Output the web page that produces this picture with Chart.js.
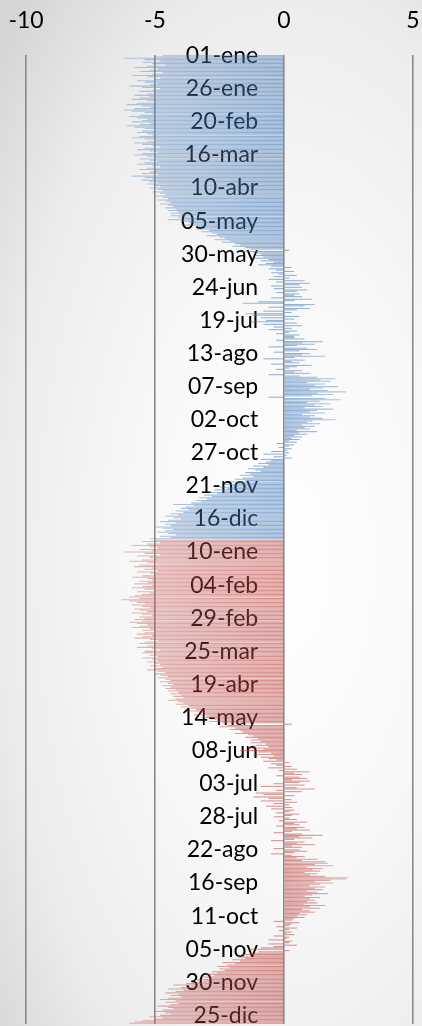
<!DOCTYPE html>
<html>
<head>
<meta charset="utf-8">
<script src="https://cdn.jsdelivr.net/npm/chart.js@4"></script>
<style>
  html, body {
    margin: 0;
    padding: 0;
  }
  body {
    width: 422px;
    height: 1026px;
    overflow: hidden;
    background: radial-gradient(ellipse 90% 75% at 68% 55%, #ffffff 0%, #f8f8f8 40%, #ececec 75%, #d6d6d6 100%);
  }
  #wrap {
    position: relative;
    width: 422px;
    height: 1026px;
  }
</style>
</head>
<body>
<div id="wrap"><canvas id="chart"></canvas></div>
<script>
'use strict';

// Month names and day counts used for the category labels.
// Both years of the picture carry a 29-feb.
const monthNames = ['ene', 'feb', 'mar', 'abr', 'may', 'jun', 'jul', 'ago', 'sep', 'oct', 'nov', 'dic'];
const monthDays = [31, 29, 31, 30, 31, 30, 31, 31, 30, 31, 30, 31];

// Only every 25th category gets a visible label.
const labelStep = 25;

// X axis tick values.
const xTicks = [-10, -5, 0, 5];

// First year (blue), one value per day.
const firstYear = [
  // ene
  -4.7, -5.0, -6.2, -5.4, -4.8, -5.5, -5.1, -4.6, -5.3, -5.8, -4.9, -5.2, -5.6, -4.7, -5.1, -5.9,
  -5.3, -4.8, -5.0, -5.7, -5.4, -4.9, -5.2, -6.0, -5.5, -4.8, -5.1, -5.6, -5.0, -5.3, -5.8,
  // feb
  -5.2, -5.6, -5.9, -5.3, -5.0, -5.7, -6.1, -5.5, -5.2, -5.8, -6.2, -5.9, -5.4, -5.1, -5.6,
  -6.0, -5.7, -5.3, -5.5, -5.9, -5.2, -5.6, -6.1, -5.8, -5.4, -5.0, -5.5, -5.7, -5.3,
  // mar
  -5.1, -5.6, -5.9, -5.4, -5.0, -5.3, -5.8, -5.5, -5.1, -4.8, -5.4, -5.7, -5.2, -4.9, -5.5, -5.8,
  -5.3, -5.0, -5.6, -5.2, -4.9, -5.4, -5.7, -5.1, -4.8, -5.3, -5.6, -5.0, -5.2, -5.5, -4.9,
  // abr
  -5.9, -5.4, -5.1, -5.5, -5.2, -4.9, -5.3, -5.0, -4.8, -5.2, -4.9, -4.7, -5.1, -4.8, -4.6,
  -5.0, -4.7, -4.5, -4.9, -4.6, -4.4, -4.8, -4.5, -4.3, -4.6, -4.2, -4.5, -4.1, -4.4, -4.0,
  // may
  -4.4, -4.1, -3.9, -4.5, -4.0, -3.7, -3.5, -3.9, -3.3, -3.1, -3.4, -2.9, -3.2, -2.8, -2.6, -3.0,
  -2.5, -2.3, -2.7, -2.1, -2.4, -1.9, -1.7, -2.0, -1.5, -1.3, 0.2, -1.6, -1.2, -0.9, -1.1,
  // jun
  -0.8, -1.2, -0.6, -0.9, -0.4, -0.7, -1.0, -0.5, 0.3, -0.6, -0.3, 0.4, -0.5, -0.2, 0.5,
  -0.4, 0.2, -0.6, 0.8, -0.3, 1.0, 0.6, -0.5, 0.7, -0.4, 0.9, 0.5, -0.3, 0.6, 0.4,
  // jul
  0.7, -0.5, 1.1, 0.4, -1.0, -1.6, 1.2, 0.8, -0.6, 1.0, 0.5, -0.8, 0.3, -1.5, -1.2, 0.6,
  -0.9, 0.4, -0.7, -1.3, 0.5, -0.8, 0.7, -0.4, 0.3, -0.6, 0.5, 0.2, -0.3, 0.6, 0.4,
  // ago
  0.4, 0.8, -0.3, 1.5, 0.7, 1.2, 0.5, -0.6, 0.9, 1.3, 0.6, -0.4, 1.0, 0.7, 1.6, 0.4,
  -0.8, 0.8, 0.3, 0.6, -0.5, 1.1, 0.5, 0.2, -0.3, 0.7, 0.4, 1.0, -0.6, 0.6, 1.3,
  // sep
  2.0, 1.4, 1.8, 0.9, 1.6, 1.2, 2.1, 1.5, 1.0, 1.7, 2.4, 1.3, 1.9, 1.1, -0.6,
  1.6, 2.2, 1.4, 0.9, 1.8, 1.2, 1.5, 0.8, 1.9, 1.3, 1.0, 1.6, 0.7, 1.2, 1.0,
  // oct
  1.5, 2.0, 1.1, 0.9, 1.4, 0.7, 1.2, 0.8, 1.0, 0.5, 1.3, 0.6, 0.9, 0.4, 0.7, 0.3,
  0.6, 0.2, 0.5, -0.3, 0.4, 0.2, -0.2, 0.3, 0.1, -0.5, 0.2, -0.8, 0.1, -0.4, 0.3,
  // nov
  -0.9, -0.5, -0.7, -1.0, -0.6, -1.2, -0.8, -1.4, -1.1, -0.9, -1.5, -1.3, -1.7, -1.2, -1.6,
  -1.9, -1.5, -2.1, -1.8, -2.3, -2.0, -2.5, -2.2, -2.7, -2.4, -2.9, -2.6, -3.1, -2.8, -3.3,
  // dic
  -3.0, -3.4, -3.2, -3.6, -4.3, -3.5, -3.8, -4.0, -3.7, -4.2, -3.9, -4.4, -4.1, -4.6, -4.3, -4.0,
  -4.5, -4.8, -4.2, -4.6, -4.4, -5.0, -4.7, -4.3, -4.6, -4.9, -4.5, -4.2, -4.8, -4.4, -5.2
];

// Second year (red), one value per day.
const secondYear = [
  // ene
  -5.0, -5.5, -4.8, -5.3, -5.9, -5.2, -4.9, -5.6, -5.1, -6.2, -5.4, -4.8, -5.7, -5.2, -5.0, -5.5,
  -6.0, -5.3, -4.9, -5.6, -5.8, -5.1, -5.4, -4.9, -5.7, -5.2, -5.0, -5.5, -5.9, -5.3, -5.1,
  // feb
  -5.6, -5.3, -5.8, -5.1, -5.5, -5.9, -5.4, -5.0, -5.7, -5.2, -5.5, -5.8, -6.0, -5.6, -6.3,
  -6.0, -5.7, -5.4, -5.9, -5.5, -5.2, -5.8, -5.6, -5.3, -5.9, -5.5, -5.1, -5.6, -5.4,
  // mar
  -5.8, -5.5, -6.0, -5.7, -5.3, -5.6, -5.9, -5.2, -5.5, -5.0, -5.4, -5.7, -5.1, -5.5, -5.8, -5.2,
  -4.9, -5.4, -5.6, -5.0, -5.3, -5.7, -5.1, -4.8, -5.4, -5.5, -5.0, -5.2, -4.9, -5.5, -5.1,
  // abr
  -4.9, -5.3, -5.0, -4.8, -5.2, -4.7, -5.0, -5.3, -4.9, -4.6, -5.0, -4.8, -4.5, -4.9, -4.6,
  -4.4, -4.8, -4.5, -4.3, -4.7, -4.4, -4.6, -4.2, -4.5, -4.1, -4.4, -4.0, -4.3, -3.9, -4.2,
  // may
  -4.5, -4.1, -3.9, -4.2, -3.7, -4.0, -3.6, -3.4, -3.8, -3.3, -3.1, -3.5, -3.0, -3.2, -2.8, -2.6,
  -2.9, -2.4, 0.3, -2.2, -2.5, -1.9, -2.1, -1.7, -1.6, -1.9, -1.4, -1.2, -1.5, -1.0, -1.3,
  // jun
  -0.9, -1.3, -0.7, -1.1, -0.6, -1.4, -0.8, -1.7, -1.0, -0.5, -1.2, -0.4, -0.9, -0.6, -0.3,
  -0.8, 0.2, -0.5, -0.3, 0.3, -0.6, 0.5, -0.2, 1.0, 0.4, 0.7, -0.3, 0.6, 0.9, 0.3,
  // jul
  1.0, 0.6, -0.4, 0.8, -0.9, 0.5, 1.2, -0.3, 0.7, -1.1, -0.8, 0.4, -1.2, -0.6, 0.3, -0.9,
  0.5, -0.4, 0.2, -0.7, 0.3, -0.5, 0.4, 0.2, -0.3, 0.6, 0.3, -0.4, 0.2, 0.5, -0.2,
  // ago
  0.9, 0.4, 0.6, -0.3, 0.8, 0.5, 1.0, 0.3, -0.4, 0.7, 1.5, 0.6, 1.1, 0.4, -0.5, 0.8,
  0.5, 1.2, 0.3, 0.7, -0.4, 0.6, 0.9, 0.4, -0.5, 0.3, 0.8, 0.5, 1.3, 0.7, 1.6,
  // sep
  1.7, 1.2, 1.9, 0.9, 1.5, 1.1, 1.4, 0.8, 1.3, 1.0, 1.6, 2.5, 2.4, 1.8, 1.2,
  1.9, 1.4, 1.0, 1.6, 1.2, 1.5, 0.9, 1.3, 1.7, 1.1, 0.8, 1.4, 1.0, 1.2, 0.9,
  // oct
  1.3, 0.8, 1.6, 1.0, 1.4, 0.7, 1.0, 1.2, 0.6, 0.9, 0.5, 0.8, 0.4, 0.3, -0.4, 0.6,
  0.3, 0.2, -0.3, 0.5, 0.2, -0.2, 0.3, 0.1, 0.4, -0.4, 0.2, 0.1, -0.6, 0.3, 0.2,
  // nov
  -0.6, 0.5, -0.4, -0.9, -1.4, 0.2, -1.0, -1.3, -1.6, -1.2, -1.8, -1.5, -2.0, -1.7, -2.4,
  -1.9, -2.2, -2.6, -2.1, -2.5, -2.3, -2.8, -2.6, -3.0, -2.7, -3.2, -2.9, -3.4, -3.1, -3.6,
  // dic
  -3.8, -4.3, -3.6, -4.0, -4.5, -3.9, -4.2, -4.6, -4.1, -4.4, -4.0, -4.5, -4.8, -4.2, -4.6, -4.1,
  -4.4, -4.9, -4.5, -4.3, -4.7, -5.0, -4.6, -4.4, -4.8, -5.2, -4.7, -5.0, -5.5, -5.8, -6.0
];

// Builds the "dd-mmm" labels for one year.
function yearLabels() {
  const out = [];
  monthNames.forEach((name, m) => {
    for (let d = 1; d <= monthDays[m]; d++) {
      out.push(String(d).padStart(2, '0') + '-' + name);
    }
  });
  return out;
}

const labels = yearLabels().concat(yearLabels());

// Each year is its own dataset, padded with nulls over the other year.
const blueData = firstYear.concat(secondYear.map(() => null));
const redData = firstYear.map(() => null).concat(secondYear);

// Bars fade slightly towards their tips.
function barFill(rgb) {
  let cache = null;
  return (ctx) => {
    const chart = ctx.chart;
    const area = chart.chartArea;
    const x = chart.scales.x;
    if (!area || !x) return 'rgba(' + rgb + ', 0.55)';
    if (cache) return cache;
    const w = area.right - area.left;
    const pos = v => (x.getPixelForValue(v) - area.left) / w;
    const g = chart.ctx.createLinearGradient(area.left, 0, area.right, 0);
    g.addColorStop(pos(-7), 'rgba(' + rgb + ', 0.35)');
    g.addColorStop(pos(0), 'rgba(' + rgb + ', 0.64)');
    g.addColorStop(pos(3), 'rgba(' + rgb + ', 0.35)');
    cache = g;
    return g;
  };
}

const tickFont = {family: 'Lato', size: 23};

new Chart(document.getElementById('chart'), {
  type: 'bar',
  data: {
    labels: labels,
    datasets: [
      {
        data: blueData,
        backgroundColor: barFill('79, 129, 189'),
        borderWidth: 0,
        barPercentage: 0.8,
        categoryPercentage: 1
      },
      {
        data: redData,
        backgroundColor: barFill('192, 80, 77'),
        borderWidth: 0,
        barPercentage: 0.8,
        categoryPercentage: 1
      }
    ]
  },
  options: {
    indexAxis: 'y',
    responsive: true,
    maintainAspectRatio: false,
    animation: false,
    layout: {padding: {left: 26, right: 9, top: 8, bottom: 2}},
    datasets: {bar: {grouped: false}},
    plugins: {
      legend: {display: false},
      tooltip: {enabled: false}
    },
    scales: {
      x: {
        position: 'top',
        min: -10,
        max: 5,
        afterBuildTicks: (scale) => {
          scale.ticks = xTicks.map(v => ({value: v}));
        },
        // Fixed band above the plot; no extra side padding for the labels.
        afterFit: (scale) => {
          scale.height = 47;
          scale.paddingLeft = 0;
          scale.paddingRight = 0;
          scale.paddingTop = 0;
          scale.paddingBottom = 0;
        },
        ticks: {font: tickFont, color: '#000', padding: 21},
        grid: {color: '#8a8a8a', lineWidth: 1.6, drawTicks: false},
        border: {display: false}
      },
      y: {
        // Axis sits at x = -1 so the labels end a little left of zero.
        position: {x: -1},
        z: 1,
        afterFit: (scale) => {
          scale.paddingTop = 0;
          scale.paddingBottom = 0;
        },
        ticks: {
          autoSkip: false,
          font: tickFont,
          color: '#000',
          padding: 0,
          callback: (value, index) => index % labelStep === 0 ? labels[index] : ''
        },
        grid: {display: false, drawTicks: false},
        border: {display: false}
      }
    }
  }
});
</script>
</body>
</html>
